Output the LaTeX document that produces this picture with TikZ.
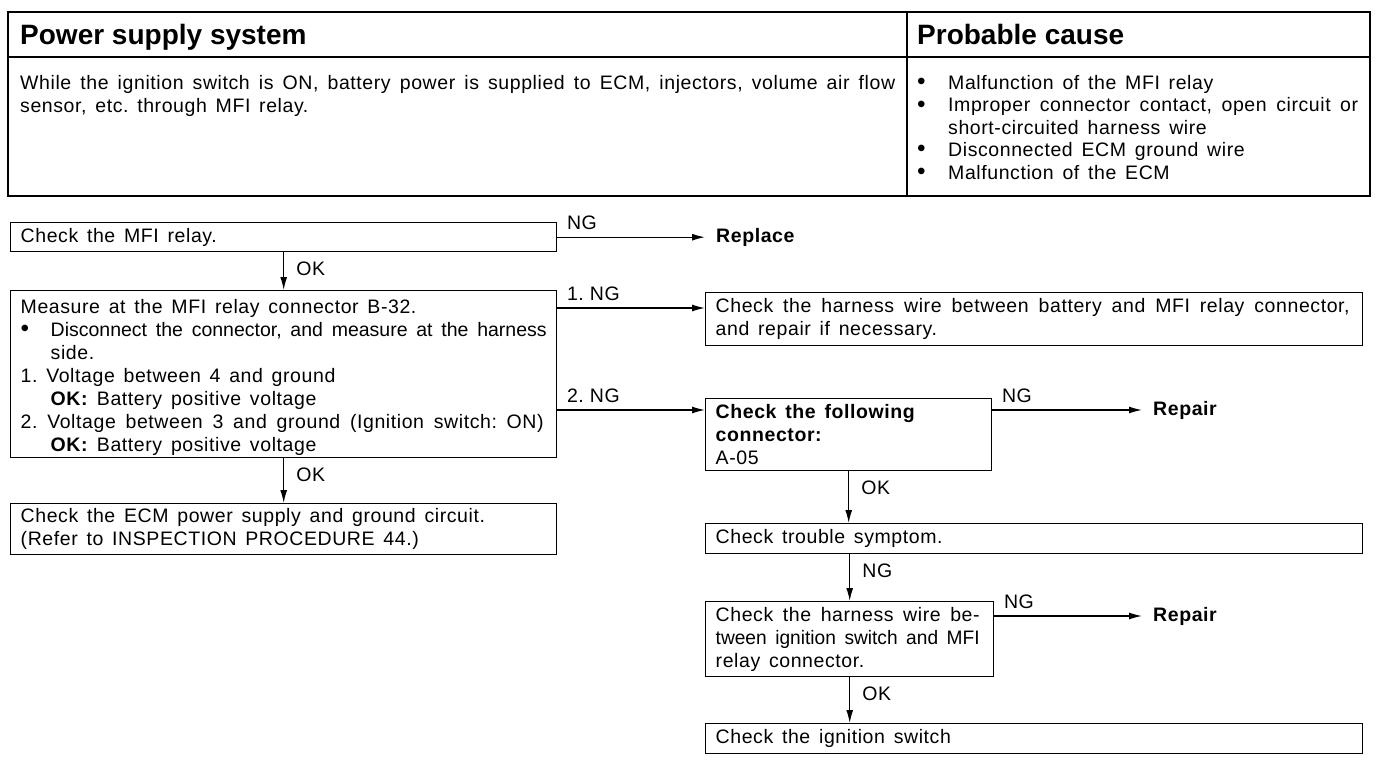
\documentclass[tikz,border=0pt]{standalone}
\usepackage{fontspec}
\usepackage{graphicx}
\setmainfont{Liberation Sans}
\newfontfamily\bodyff{Liberation Sans}[LetterSpace=3]
\usetikzlibrary{arrows.meta,calc}
\newcommand\sk{\spaceskip=0.45em plus 0.8em minus 0.2em\xspaceskip=\spaceskip\relax}
\newcommand\bodyfont{\bodyff\fontsize{19.5}{23}\selectfont\frenchspacing}
\newcommand\hdfont{\fontsize{28}{30}\selectfont\bfseries}
\newsavebox\flbox
\newcommand\fl[2]{\leavevmode\sbox\flbox{\sk#2}\ifdim\wd\flbox>#1pt\relax\resizebox{#1pt}{\height}{\sk#2}\else\hbox to #1pt{\sk#2}\fi}
\newcommand\bl{\raisebox{-0.4pt}{\scalebox{1.25}{\textbullet}}}
\newcommand\bul{\makebox[30pt][l]{\bl}}
\begin{document}
\begin{tikzpicture}[x=1pt,y=-1pt,
  box/.style={draw, line width=1.4pt, anchor=north west, inner xsep=10pt, inner ysep=0pt, align=left, font=\bodyfont},
  arr/.style={line width=1.3pt, -{Latex[length=13pt,width=7pt]}},
  lab/.style={font=\bodyfont, inner xsep=9pt, inner ysep=7pt, anchor=south west},
  vlab/.style={font=\bodyfont, inner xsep=12pt, inner ysep=9pt, anchor=north west},
  res/.style={font=\bodyfont\bfseries, anchor=west, inner xsep=11pt, inner ysep=0pt},
  txt/.style={font=\bodyfont, anchor=north west, inner sep=0pt, align=left}]
\useasboundingbox (0,0) rectangle (1392,762);
% table
\draw[line width=2pt] (8,12) rectangle (1370,196);
\draw[line width=1.6pt] (8,57) -- (1370,57);
\draw[line width=1.6pt] (907,12) -- (907,196);
\node[font=\hdfont, anchor=base west, inner sep=0pt] (th1) at (20,45) {Power supply system};
\node[font=\hdfont, anchor=base west, inner sep=0pt] (th2) at (917,45) {Probable cause};
\node[txt, text width=875pt] (td1) at (20,75) {\sk\fl{875}{While the ignition switch is ON, battery power is supplied to ECM, injectors, volume air flow}\\sensor, etc. through MFI relay.};
\node[txt, text width=441pt] (td2) at (917,75) {\sk\fontsize{19.5}{22.4}\selectfont\makebox[31pt][l]{\bl}Malfunction of the MFI relay\\
\makebox[31pt][l]{\bl}\fl{410}{Improper connector contact, open circuit or}\\
\hspace*{31pt}short-circuited harness wire\\
\makebox[31pt][l]{\bl}Disconnected ECM ground wire\\
\makebox[31pt][l]{\bl}Malfunction of the ECM};
% boxes
\node[box, text width=526pt, minimum height=29pt] (b1) at (10,222) {\sk Check the MFI relay.};
\node[box, text width=526pt, minimum height=167pt] (b2) at (10,290) {\sk\rule{0pt}{20pt}Measure at the MFI relay connector B-32.\\
\bul\fl{496}{\rmfamily Disconnect the connector, and measure at the harness}\\
\hspace*{30pt}side.\\
1. Voltage between 4 and ground\\
\hspace*{30pt}\textbf{OK:} Battery positive voltage\\
\fl{523}{2. Voltage between 3 and ground (Ignition switch: ON)}\\
\hspace*{30pt}\textbf{OK:} Battery positive voltage};
\node[box, text width=526pt, minimum height=51pt] (b3) at (10,503) {\sk Check the ECM power supply and ground circuit.\\(Refer to INSPECTION PROCEDURE 44.)};
\node[box, text width=637pt, minimum height=53pt] (c1) at (705,292) {\sk\fl{634}{Check the harness wire between battery and MFI relay connector,}\\and repair if necessary.};
\node[box, text width=266pt, minimum height=72pt] (c2) at (705,398) {\sk\textbf{Check the following}\\\textbf{connector:}\\A-05};
\node[box, text width=637pt, minimum height=30pt] (c3) at (705,523) {\sk Check trouble symptom.};
\node[box, text width=268pt, minimum height=75pt] (c4) at (705,601) {\sk\fl{264}{Check the harness wire be-}\\\fl{264}{\rmfamily tween ignition switch and MFI}\\relay connector.};
\node[box, text width=637pt, minimum height=30pt] (c5) at (705,723) {\sk Check the ignition switch};
% results
\node[res] (r1) at (705,237) {Replace};
\node[res] (r2) at (1142,410) {Repair};
\node[res] (r3) at (1142,616) {Repair};
% arrows
\draw[arr] (b1.east) -- node[lab,pos=0]{NG} (b1.east -| r1.west);
\draw[arr] (b2.east |- 0,308) -- node[lab,pos=0]{1. NG} (c1.west |- 0,308);
\draw[arr] (b2.east |- 0,410) -- node[lab,pos=0]{2. NG} (c2.west |- 0,410);
\draw[arr] (c2.east |- 0,410) -- node[lab,pos=0]{NG} (r2.west |- 0,410);
\draw[arr] (c4.east |- 0,616) -- node[lab,pos=0]{NG} (r3.west |- 0,616);
\draw[arr] (b1.south) -- node[vlab,pos=0]{OK} (b2.north);
\draw[arr] (b2.south) -- node[vlab,pos=0]{OK} (b3.north);
\draw[arr] (c2.south) -- node[vlab,pos=0]{OK} (c2.south |- c3.north);
\draw[arr] (c4.north |- c3.south) -- node[vlab,pos=0]{NG} (c4.north);
\draw[arr] (c4.south) -- node[vlab,pos=0]{OK} (c4.south |- c5.north);
\end{tikzpicture}
\end{document}
